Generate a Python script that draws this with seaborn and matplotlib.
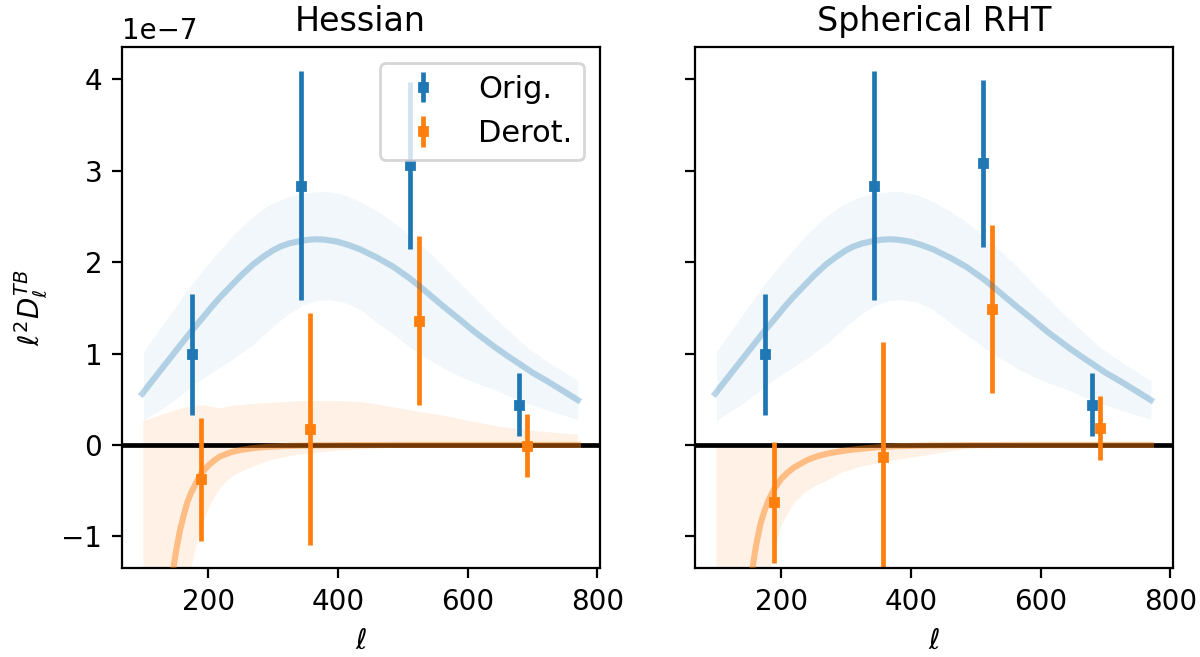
import numpy as np
import matplotlib
matplotlib.use("Agg")
import matplotlib.pyplot as plt
import seaborn as sns

SCALE = 1e-7

titles = ["Hessian", "Spherical RHT"]

# bin multipoles of the data points
ell_orig = [175, 343, 511, 679]
ell_derot = [189, 357, 525, 692]

# data points (units of 1e-7)
orig_val = {"Hessian": [0.99, 2.835, 3.06, 0.44],
            "Spherical RHT": [0.99, 2.835, 3.08, 0.44]}
orig_err = {"Hessian": [0.66, 1.255, 0.915, 0.343],
            "Spherical RHT": [0.66, 1.255, 0.915, 0.343]}
derot_val = {"Hessian": [-0.378, 0.177, 1.36, -0.01],
             "Spherical RHT": [-0.63, -0.13, 1.49, 0.184]}
derot_err = {"Hessian": [0.668, 1.27, 0.925, 0.345],
             "Spherical RHT": [0.663, 1.26, 0.92, 0.346]}

# blue model curve (same in both panels)
blue_x = [98, 120, 140, 160, 175, 190, 205, 218, 235, 250, 269, 285, 300, 311, 325,
          343, 355, 367, 380, 398, 415, 434, 460, 485, 511, 525, 545, 560, 588, 610,
          640, 660, 679, 700, 722, 745, 770]
blue_y = [0.56, 0.76, 0.94, 1.12, 1.255, 1.38, 1.51, 1.615, 1.74, 1.85, 1.975, 2.06,
          2.13, 2.17, 2.205, 2.233, 2.245, 2.25, 2.245, 2.225, 2.19, 2.14, 2.05, 1.95,
          1.82, 1.74, 1.62, 1.53, 1.37, 1.24, 1.08, 0.98, 0.89, 0.79, 0.70, 0.60, 0.49]
# blue band
bband_x = [100, 120, 140, 167, 190, 218, 240, 269, 295, 321, 345, 367, 385, 410, 434,
           460, 485, 511, 537, 563, 588, 615, 640, 665, 691, 715, 737, 755, 770]
bband_hi = [1.02, 1.22, 1.42, 1.69, 1.90, 2.13, 2.31, 2.50, 2.63, 2.71, 2.755, 2.77,
            2.77, 2.735, 2.66, 2.56, 2.44, 2.29, 2.13, 1.95, 1.77, 1.58, 1.40, 1.24,
            1.07, 0.95, 0.85, 0.77, 0.70]
bband_lo = [0.27, 0.36, 0.45, 0.60, 0.72, 0.85, 0.95, 1.10, 1.27, 1.42, 1.53, 1.58,
            1.59, 1.56, 1.48, 1.34, 1.21, 1.07, 0.95, 0.84, 0.75, 0.67, 0.61, 0.53,
            0.46, 0.40, 0.35, 0.31, 0.28]

# orange model curves
orange_x = {"Hessian": [130, 140, 146, 150, 156, 162, 167, 173, 180, 189, 200, 210,
                        218, 235, 250, 269, 290, 320, 360, 400, 500, 600, 700, 770],
            "Spherical RHT": [130, 145, 155, 161, 168, 174, 180, 189, 200, 210, 220,
                              240, 255, 271, 300, 322, 350, 374, 420, 500, 600, 700,
                              770]}
orange_y = {"Hessian": [-2.6, -1.8, -1.35, -1.17, -0.94, -0.77, -0.64, -0.53, -0.43,
                        -0.31, -0.225, -0.165, -0.125, -0.08, -0.055, -0.035, -0.022,
                        -0.012, -0.005, -0.002, 0.0, 0.0, 0.0, 0.0],
            "Spherical RHT": [-3.0, -1.9, -1.375, -1.1, -0.86, -0.72, -0.61, -0.48,
                              -0.37, -0.30, -0.245, -0.165, -0.125, -0.095, -0.06,
                              -0.042, -0.025, -0.015, -0.007, -0.002, 0.0, 0.0, 0.0]}
# orange bands
oband_x = {"Hessian": [100, 141, 160, 174, 183, 190, 197, 205, 213, 225, 240, 255,
                       269, 295, 320, 345, 372, 400, 434, 455, 485, 562, 640, 691, 770],
           "Spherical RHT": [100, 150, 170, 184, 192, 199, 210, 220, 240, 255, 271,
                             295, 322, 350, 374, 405, 435, 460, 487, 538, 600, 700,
                             770]}
oband_hi = {"Hessian": [0.26, 0.36, 0.40, 0.42, 0.43, 0.43, 0.43, 0.42, 0.40, 0.41,
                        0.43, 0.44, 0.45, 0.46, 0.47, 0.48, 0.48, 0.48, 0.47, 0.45,
                        0.41, 0.32, 0.21, 0.16, 0.11],
            "Spherical RHT": [-0.01, -0.01, -0.01, -0.01, -0.01, -0.01, -0.01, -0.01,
                              -0.01, -0.01, -0.01, -0.01, -0.01, -0.01, -0.01, -0.01,
                              -0.01, -0.005, -0.005, 0.0, 0.0, 0.0, 0.0]}
oband_lo = {"Hessian": [-8.0, -3.5, -2.1, -1.35, -1.05, -0.9, -0.76, -0.63, -0.53,
                        -0.42, -0.33, -0.28, -0.24, -0.17, -0.13, -0.10, -0.08, -0.065,
                        -0.05, -0.04, -0.03, -0.015, -0.01, -0.005, 0.0],
            "Spherical RHT": [-8.0, -3.5, -2.1, -1.375, -1.1, -0.90, -0.75, -0.64,
                              -0.50, -0.44, -0.39, -0.30, -0.24, -0.20, -0.17, -0.135,
                              -0.10, -0.07, -0.04, -0.02, -0.01, 0.0, 0.0]}

c_blue = "#1f77b4"
c_orange = "#ff7f0e"

fig, axes = plt.subplots(1, 2, sharey=True, figsize=(6.0, 3.285), dpi=200)
fig.subplots_adjust(left=0.1015, right=0.9772, wspace=0.199, top=0.928, bottom=0.135)


def s(a):
    return np.asarray(a, dtype=float) * SCALE


for ax, t in zip(axes, titles):
    ax.fill_between(bband_x, s(bband_lo), s(bband_hi), color=c_blue, alpha=0.06,
                    lw=0, zorder=1)
    ax.fill_between(oband_x[t], s(oband_lo[t]), s(oband_hi[t]), color=c_orange,
                    alpha=0.1, lw=0, zorder=1)
    ax.axhline(0, color="black", lw=1.7, zorder=1.5)
    ax.errorbar(ell_orig, s(orig_val[t]), yerr=s(orig_err[t]), fmt="s", ms=3,
                color=c_blue, elinewidth=1.7, capsize=0, label="Orig.", zorder=2)
    ax.errorbar(ell_derot, s(derot_val[t]), yerr=s(derot_err[t]), fmt="s", ms=3,
                color=c_orange, elinewidth=1.7, capsize=0, label="Derot.", zorder=2)
    sns.lineplot(x=blue_x, y=s(blue_y), ax=ax, color=c_blue, alpha=0.3, lw=2.2,
                 zorder=3, legend=False)
    sns.lineplot(x=orange_x[t], y=s(orange_y[t]), ax=ax, color=c_orange, alpha=0.45,
                 lw=2.2, zorder=3, legend=False)
    ax.set_title(t, fontsize=12)
    ax.set_xlabel(r"$\ell$")
    ax.set_xlim(66.5, 803.5)
    ax.set_xticks([200, 400, 600, 800])
    leg = ax.get_legend()
    if leg is not None:
        leg.remove()

axes[0].set_ylim(-1.35e-7, 4.35e-7)
axes[0].set_yticks([-1e-7, 0, 1e-7, 2e-7, 3e-7, 4e-7])
axes[0].set_ylabel(r"$\ell^2 D_\ell^{TB}$")
axes[1].set_ylabel("")
axes[0].legend(loc="upper right", fontsize=11)

fig.savefig("out.png", dpi=200)
